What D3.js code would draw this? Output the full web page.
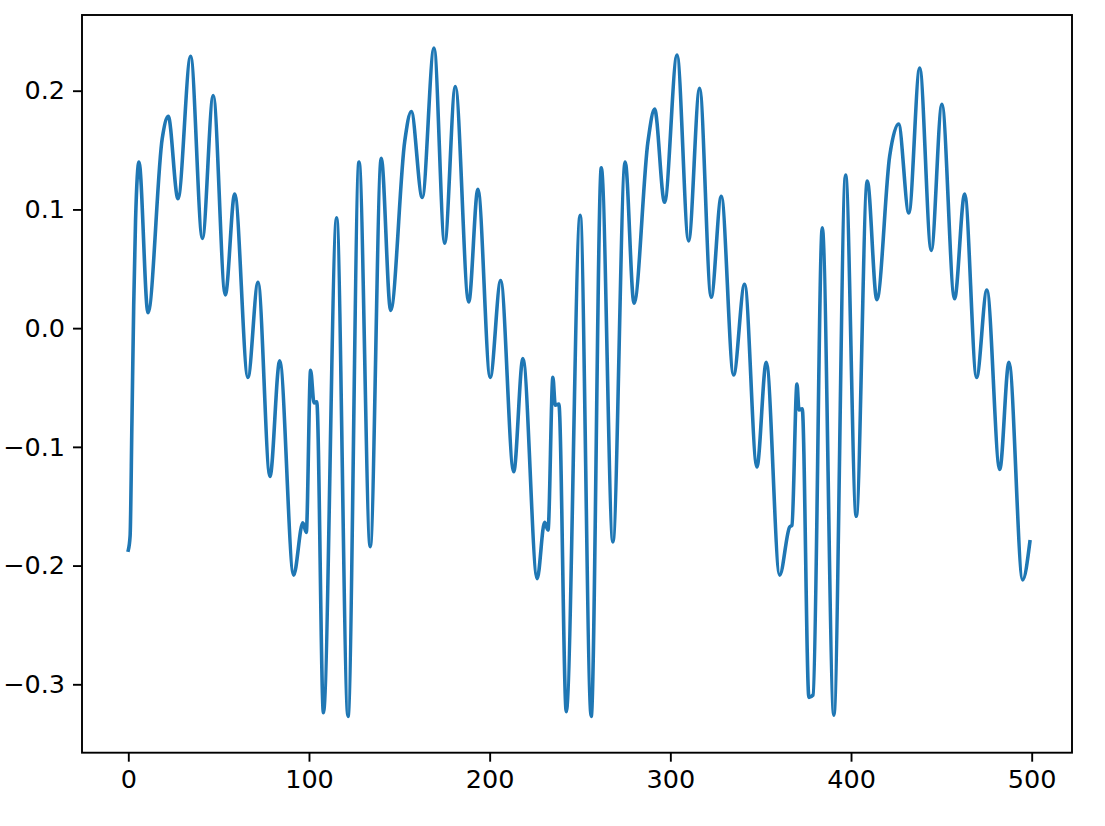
<!DOCTYPE html>
<html>
<head>
<meta charset="utf-8">
<script src="https://cdn.jsdelivr.net/npm/d3@7"></script>
<style>
  html, body { margin: 0; padding: 0; background: #ffffff; }
  svg { display: block; }
  text { font-family: "DejaVu Sans", sans-serif; fill: #000; }
</style>
</head>
<body>
<div id="chart"></div>
<script>
// Sample positions (x) and values (y)
const sampleX = [0, 1, 2, 3, 4, 5.9, 10.9, 18.8, 22.1, 27.5, 34.5, 41.0, 47.0, 53.7, 58.9, 66.2, 71.8, 78.4, 83.8, 91.5,
  96.6, 98.5, 100.9, 102.8, 104.3, 108.0, 115.3, 121.6, 127.7, 133.9, 140.0, 145.2, 153.0, 156.6, 162.7, 169.2, 175.1,
  181.0, 188.4, 193.5, 200.3, 206.1, 213.3, 218.4, 226.3, 230.4, 232.3, 235.0, 236.3, 238.3, 242.4, 250.1, 256.2,
  261.8, 268.2, 275.0, 279.9, 287.6, 291.3, 296.8, 303.7, 310.1, 316.2, 322.6, 328.2, 335.0, 341.1, 347.9, 353.1,
  360.5, 366.0, 367.3, 370.1, 371.2, 373.0, 376.7, 379.0, 384.1, 390.5, 397.0, 402.9, 409.0, 414.3, 421.4, 426.3,
  432.0, 438.0, 444.4, 450.3, 457.3, 462.9, 469.5, 475.2, 482.3, 487.4, 495.0, 499];
const sampleY = [-0.187, -0.175, -0.08, 0.02, 0.09, 0.140, 0.013, 0.160, 0.1785, 0.109, 0.229, 0.0755, 0.196, 0.028, 0.113, -0.0415, 0.0386, -0.125, -0.0276, -0.208,
  -0.164, -0.172, -0.0356, -0.063, -0.062, -0.324, 0.093, -0.327, 0.140, -0.184, 0.143, 0.015, 0.1575, 0.1825, 0.110, 0.236, 0.0715,
  0.2035, 0.022, 0.117, -0.0415, 0.040, -0.121, -0.0257, -0.211, -0.1636, -0.170, -0.0415, -0.065, -0.064, -0.323, 0.095, -0.327,
  0.135, -0.180, 0.140, 0.021, 0.157, 0.1845, 0.106, 0.230, 0.0735, 0.202, 0.026, 0.111, -0.0395, 0.037, -0.117, -0.0288,
  -0.208, -0.1676, -0.166, -0.047, -0.069, -0.068, -0.311, -0.309, 0.0846, -0.326, 0.129, -0.1585, 0.124, 0.024, 0.145, 0.172,
  0.097, 0.219, 0.0655, 0.1885, 0.0247, 0.113, -0.0415, 0.032, -0.119, -0.0288, -0.212, -0.180];

const xTicks = [0, 100, 200, 300, 400, 500];
const yTicks = [-0.3, -0.2, -0.1, 0.0, 0.1, 0.2];
const yTickLabels = ["\u22120.3", "\u22120.2", "\u22120.1", "0.0", "0.1", "0.2"];

const W = 1105, H = 826;
const frame = { left: 82, right: 1072, top: 15, bottom: 752.7 };
const fontSize = 25.5;
const tickLen = 9;

const svg = d3.select("#chart").append("svg")
  .attr("width", W).attr("height", H)
  .style("background", "#ffffff");

const x = d3.scaleLinear().domain([0, 500]).range([128.3, 1031.7]);
const y = d3.scaleLinear().domain([-0.3, 0.2]).range([684.3, 90.7]);

const data = sampleX.map((v, i) => ({ x: v, y: sampleY[i] }));

svg.append("clipPath").attr("id", "clip")
  .append("rect")
  .attr("x", frame.left).attr("y", frame.top)
  .attr("width", frame.right - frame.left).attr("height", frame.bottom - frame.top);

const line = d3.line()
  .x(d => x(d.x))
  .y(d => y(d.y))
  .curve(d3.curveMonotoneX);

svg.append("path")
  .datum(data)
  .attr("clip-path", "url(#clip)")
  .attr("d", line)
  .attr("fill", "none")
  .attr("stroke", "#1f77b4")
  .attr("stroke-width", 3.6)
  .attr("stroke-linejoin", "round")
  .attr("stroke-linecap", "square");

// frame
svg.append("rect")
  .attr("x", frame.left).attr("y", frame.top)
  .attr("width", frame.right - frame.left).attr("height", frame.bottom - frame.top)
  .attr("fill", "none").attr("stroke", "#000").attr("stroke-width", 1.9);

// x axis
const xAxis = d3.axisBottom(x).tickValues(xTicks).tickSize(tickLen).tickPadding(8).tickFormat(d3.format("d"));
const gx = svg.append("g").attr("transform", `translate(0,${frame.bottom})`).call(xAxis);
gx.select(".domain").remove();
gx.selectAll(".tick line").attr("stroke", "#000").attr("stroke-width", 1.9);
gx.selectAll(".tick text").attr("font-size", fontSize).attr("font-family", "DejaVu Sans").attr("fill", "#000");

// y axis
const yAxis = d3.axisLeft(y).tickValues(yTicks).tickSize(tickLen).tickPadding(8)
  .tickFormat((d, i) => yTickLabels[i]);
const gy = svg.append("g").attr("transform", `translate(${frame.left},0)`).call(yAxis);
gy.select(".domain").remove();
gy.selectAll(".tick line").attr("stroke", "#000").attr("stroke-width", 1.9);
gy.selectAll(".tick text").attr("font-size", fontSize).attr("font-family", "DejaVu Sans").attr("fill", "#000");
</script>
</body>
</html>
